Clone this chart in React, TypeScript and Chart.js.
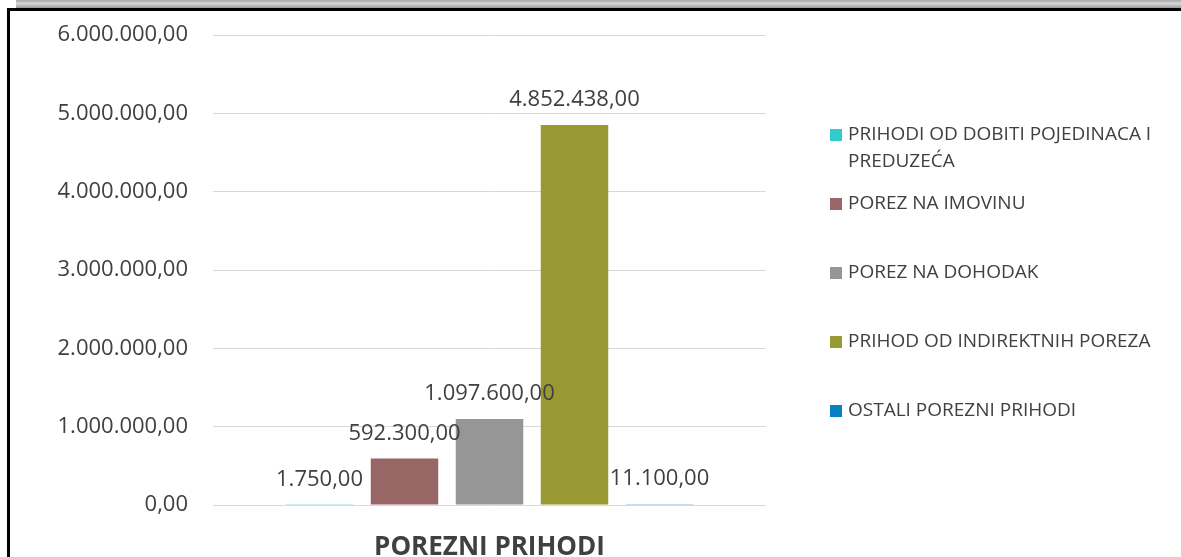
import React, { useEffect, useRef } from "react";
import { Chart, registerables } from "chart.js";

Chart.register(...registerables);

const categories = ["POREZNI PRIHODI"];
const seriesNames = [
  "PRIHODI OD DOBITI POJEDINACA I PREDUZEĆA",
  "POREZ NA IMOVINU",
  "POREZ NA DOHODAK",
  "PRIHOD OD INDIREKTNIH POREZA",
  "OSTALI POREZNI PRIHODI",
];
const seriesValues = [1750, 592300, 1097600, 4852438, 11100];
const seriesColors = ["#33CCCC", "#996666", "#969696", "#999933", "#0A80C4"];
const yTicks = [0, 1000000, 2000000, 3000000, 4000000, 5000000, 6000000];

const TEXT = "#404040";
const FONT = "'Open Sans', 'DejaVu Sans', sans-serif";

function fmt(v: number): string {
  const fixed = Math.abs(v).toFixed(2);
  const [intPart, dec] = fixed.split(".");
  const withDots = intPart.replace(/\B(?=(\d{3})+(?!\d))/g, ".");
  return (v < 0 ? "-" : "") + withDots + "," + dec;
}

const valueLabels = {
  id: "valueLabels",
  afterDatasetsDraw(chart: any) {
    const ctx = chart.ctx;
    ctx.save();
    ctx.font = `22px ${FONT}`;
    ctx.fillStyle = TEXT;
    ctx.textAlign = "center";
    ctx.textBaseline = "middle";
    chart.data.datasets.forEach((ds: any, i: number) => {
      const meta = chart.getDatasetMeta(i);
      meta.data.forEach((el: any, j: number) => {
        ctx.fillText(fmt(ds.data[j]), el.x, el.y - 25);
      });
    });
    ctx.restore();
  },
};

const sideLegend = {
  id: "sideLegend",
  afterDraw(chart: any) {
    const ctx = chart.ctx;
    const x0 = 830;
    const box = 12;
    const textX = 848;
    const maxW = 318;
    const firstY = 135;
    const step = 69;
    const lineH = 27;
    ctx.save();
    ctx.font = `19px ${FONT}`;
    ctx.textBaseline = "middle";
    ctx.textAlign = "left";
    let y = firstY;
    chart.data.datasets.forEach((ds: any) => {
      const words = String(ds.label).split(" ");
      const lines: string[] = [];
      let cur = "";
      words.forEach((w) => {
        const test = cur ? cur + " " + w : w;
        if (ctx.measureText(test).width > maxW && cur) {
          lines.push(cur);
          cur = w;
        } else cur = test;
      });
      if (cur) lines.push(cur);
      ctx.fillStyle = ds.backgroundColor;
      ctx.fillRect(x0, Math.round(y - box / 2), box, box);
      ctx.fillStyle = TEXT;
      lines.forEach((ln, k) => ctx.fillText(ln, textX, y + k * lineH));
      y += step;
    });
    ctx.restore();
  },
};

export default function App() {
  const canvasRef = useRef<HTMLCanvasElement | null>(null);

  useEffect(() => {
    if (!canvasRef.current) return;
    const chart = new Chart(canvasRef.current, {
      type: "bar",
      data: {
        labels: categories,
        datasets: seriesNames.map((name, i) => ({
          label: name,
          data: [seriesValues[i]],
          backgroundColor: seriesColors[i],
          borderWidth: 0,
          categoryPercentage: 0.7685,
          barPercentage: 0.794,
        })),
      },
      options: {
        animation: false,
        responsive: false,
        maintainAspectRatio: false,
        layout: { padding: { left: 0, right: 415, top: 35, bottom: 0 } },
        plugins: {
          legend: { display: false },
          tooltip: { enabled: false },
          title: { display: false },
        },
        scales: {
          x: {
            grid: { display: false },
            border: { display: false },
            ticks: {
              color: TEXT,
              font: { family: FONT, size: 26, weight: "bold" },
              padding: 19,
            },
            afterFit: (s: any) => {
              s.height = 52;
            },
          },
          y: {
            min: 0,
            max: 6000000,
            afterBuildTicks: (s: any) => {
              s.ticks = yTicks.map((v) => ({ value: v }));
            },
            grid: {
              color: "#D9D9D9",
              lineWidth: 1,
              drawTicks: true,
              tickLength: 25,
              tickColor: "rgba(0,0,0,0)",
            },
            border: { display: false },
            ticks: {
              color: TEXT,
              font: { family: FONT, size: 22 },
              padding: 0,
              callback: (v: any) => fmt(Number(v)),
            },
            afterFit: (s: any) => {
              s.width = 213;
            },
          },
        },
      },
      plugins: [valueLabels, sideLegend],
    });
    return () => chart.destroy();
  }, []);

  return (
    <div
      style={{
        position: "absolute",
        left: 0,
        top: 0,
        width: 1181,
        height: 557,
        background: "#ffffff",
        overflow: "hidden",
      }}
    >
      <div
        style={{
          position: "absolute",
          left: 16,
          top: 0,
          width: 1165,
          height: 8,
          background: "linear-gradient(#a8a8a8, #d6d6d6 45%, #9a9a9a)",
        }}
      />
      <div
        style={{
          position: "absolute",
          left: 7,
          top: 8,
          width: 1174,
          height: 3,
          background: "#000",
        }}
      />
      <div
        style={{
          position: "absolute",
          left: 7,
          top: 8,
          width: 3,
          height: 549,
          background: "#000",
        }}
      />
      <canvas
        ref={canvasRef}
        width={1181}
        height={557}
        style={{ position: "absolute", left: 0, top: 0, width: 1181, height: 557 }}
      />
    </div>
  );
}
